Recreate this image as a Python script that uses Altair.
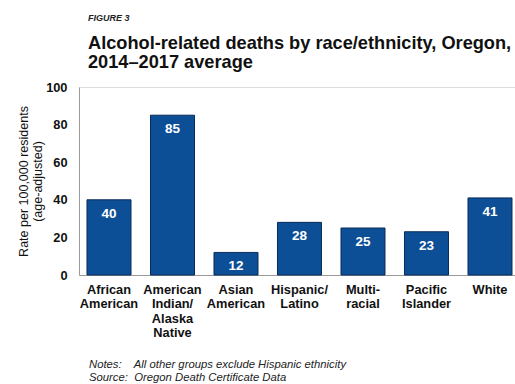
import altair as alt
import pandas as pd

categories = ["African|American", "American|Indian/|Alaska|Native", "Asian|American",
              "Hispanic/|Latino", "Multi-|racial", "Pacific|Islander", "White"]
values = [40, 85, 12, 28, 25, 23, 41]
y_ticks = [0, 20, 40, 60, 80, 100]
notes = ["Notes:\u00a0\u00a0\u00a0 All other groups exclude Hispanic ethnicity",
         "Source:\u00a0 Oregon Death Certificate Data"]

df = pd.DataFrame({"group": categories, "rate": values})

W, H = 436, 188
FONT = "Liberation Sans"

x_enc = alt.X("group:N", sort=categories,
              scale=alt.Scale(paddingInner=0.307, paddingOuter=0.0866, align=0.727),
              axis=alt.Axis(title=None, labelAngle=0, labelExpr="split(datum.value, '|')",
                            labelFontWeight="bold", labelFontSize=12.8, labelColor="#111",
                            labelLineHeight=14.5, labelPadding=8, ticks=False,
                            domainColor="#9a9a9a", labelFont=FONT, labelBaseline="top"))
y_enc = alt.Y("rate:Q", scale=alt.Scale(domain=[0, 100], nice=False),
              axis=alt.Axis(values=y_ticks, title=["Rate per 100,000 residents", "(age-adjusted)"],
                            titleFontSize=12.5, titleFontWeight="normal", titleColor="#111",
                            titleFont=FONT, titlePadding=1, titleLineHeight=14,
                            labelFontSize=12.8, labelFontWeight="bold", labelColor="#111",
                            labelFont=FONT, labelPadding=12, ticks=False, grid=False,
                            labelOverlap=False, domainColor="#9a9a9a"))

base = alt.Chart(df).encode(x=x_enc, y=y_enc)

bars = base.mark_bar(color="#0d4f96", stroke="#0a2c58", strokeWidth=1)

labels = base.mark_text(color="white", fontWeight="bold", fontSize=13.5,
                        font=FONT, baseline="middle", dy=14).encode(text="rate:Q")

note_df = pd.DataFrame({"t": notes})
note_layers = [
    alt.Chart(note_df.iloc[[i]]).mark_text(align="left", baseline="middle", fontStyle="italic",
                                           fontSize=11.3, font=FONT, color="#222").encode(
        x=alt.value(10), y=alt.value(H + 90 + 13 * i), text="t:N")
    for i in range(len(notes))
]

chart = alt.layer(bars, labels, *note_layers).properties(
    width=W, height=H,
    autosize=alt.AutoSizeParams(type="none"),
    padding={"left": 79, "top": 87, "right": 0, "bottom": 109},
    title=alt.TitleParams(
        text="FIGURE 3",
        subtitle=["Alcohol-related deaths by race/ethnicity, Oregon,", "2014–2017 average"],
        anchor="start", frame="group", dx=9, offset=10,
        font=FONT, fontSize=9, fontStyle="italic", fontWeight="bold", color="#222",
        subtitleFont=FONT, subtitleFontSize=18.2, subtitleFontWeight="bold",
        subtitleColor="#111", subtitleLineHeight=19, subtitlePadding=12)
).configure_view(stroke=None).configure(background="white")

chart.save("out.html", embed_options={"renderer": "svg", "actions": False})
